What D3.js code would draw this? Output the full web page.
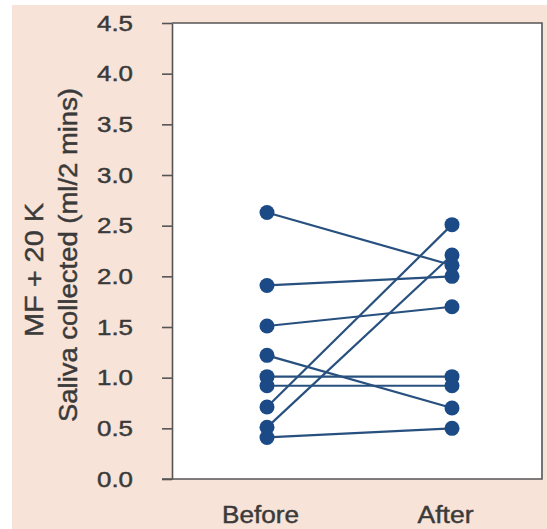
<!DOCTYPE html>
<html>
<head>
<meta charset="utf-8">
<script src="https://cdn.jsdelivr.net/npm/d3@7"></script>
<style>
  html, body { margin: 0; padding: 0; background: #ffffff; }
  svg { display: block; }
</style>
</head>
<body>
<svg id="chart" width="547" height="529"></svg>
<script>
// ---- Data ----
const categories = ["Before", "After"];
const beforeValues = [2.63, 1.91, 1.51, 1.22, 1.01, 0.92, 0.71, 0.51, 0.41];
const afterValues  = [2.11, 2.00, 1.70, 0.70, 1.01, 0.92, 2.51, 2.21, 0.50];
const yTicks = [0.0, 0.5, 1.0, 1.5, 2.0, 2.5, 3.0, 3.5, 4.0, 4.5];
const yTitle1 = "MF + 20 K";
const yTitle2 = "Saliva collected (ml/2 mins)";

// ---- Layout ----
const W = 547, H = 529;
const frame = { left: 172, right: 542, top: 23, bottom: 479 };
const svg = d3.select("#chart");

// backgrounds
svg.append("rect").attr("x", 0).attr("y", 0).attr("width", W).attr("height", H).attr("fill", "#ffffff");
svg.append("rect").attr("x", 12).attr("y", 5).attr("width", W - 12).attr("height", H - 5).attr("fill", "#f7e3d7");
svg.append("rect")
  .attr("x", frame.left).attr("y", frame.top)
  .attr("width", frame.right - frame.left).attr("height", frame.bottom - frame.top)
  .attr("fill", "#ffffff");

// scales
const y = d3.scaleLinear().domain([0, 4.5]).range([frame.bottom, frame.top]);
const x = d3.scalePoint().domain(categories).range([267, 452]);

const textColor = "#3a3a3a";
const font = "'Liberation Sans', Arial, Helvetica, sans-serif";

function heavy(sel) {
  return sel.attr("fill", textColor).attr("stroke", textColor).attr("stroke-width", 0.45).attr("font-family", font);
}

// y axis
const yAxis = d3.axisLeft(y).tickValues(yTicks).tickFormat(d3.format(".1f")).tickSize(10).tickSizeOuter(0).tickPadding(29);
const gy = svg.append("g").attr("transform", `translate(${frame.left},0)`).call(yAxis);
gy.select(".domain").attr("stroke", "#555").attr("stroke-width", 1.6);
gy.selectAll(".tick line").attr("stroke", "#555").attr("stroke-width", 1.6);
heavy(gy.selectAll(".tick text"))
  .attr("font-size", 22)
  .attr("textLength", 36).attr("lengthAdjust", "spacingAndGlyphs");

// x axis
const xLabelLen = { Before: 77, After: 56 };
const xAxis = d3.axisBottom(x).tickSize(0).tickSizeOuter(0);
const gx = svg.append("g").attr("transform", `translate(0,${frame.bottom})`).call(xAxis);
gx.select(".domain").remove();
heavy(gx.selectAll(".tick text"))
  .attr("font-size", 23.5)
  .attr("y", 44).attr("dy", 0).attr("dx", -7)
  .attr("textLength", d => xLabelLen[d]).attr("lengthAdjust", "spacingAndGlyphs");

// frame lines (top, right, bottom)
svg.append("path")
  .attr("d", `M${frame.left - 10},${frame.bottom}H${frame.right}V${frame.top}H${frame.left}`)
  .attr("fill", "none").attr("stroke", "#555").attr("stroke-width", 1.6);

// y titles
heavy(svg.append("text"))
  .attr("transform", `translate(43,270) rotate(-90)`)
  .attr("text-anchor", "middle")
  .attr("font-size", 26)
  .attr("textLength", 134).attr("lengthAdjust", "spacingAndGlyphs").text(yTitle1);
heavy(svg.append("text"))
  .attr("transform", `translate(77,255) rotate(-90)`)
  .attr("text-anchor", "middle")
  .attr("font-size", 25.5)
  .attr("textLength", 334).attr("lengthAdjust", "spacingAndGlyphs").text(yTitle2);

// lines and points
const pairs = beforeValues.map((b, i) => ({ before: b, after: afterValues[i] }));
const lineColor = "#28507f";
const dotColor = "#1b4a86";

svg.append("g").selectAll("line").data(pairs).join("line")
  .attr("x1", x("Before")).attr("x2", x("After"))
  .attr("y1", d => y(d.before)).attr("y2", d => y(d.after))
  .attr("stroke", lineColor).attr("stroke-width", 2.2);

const pts = [];
pairs.forEach(d => { pts.push({ c: "Before", v: d.before }); pts.push({ c: "After", v: d.after }); });
svg.append("g").selectAll("circle").data(pts).join("circle")
  .attr("cx", d => x(d.c)).attr("cy", d => y(d.v)).attr("r", 7.5)
  .attr("fill", dotColor);
</script>
</body>
</html>
